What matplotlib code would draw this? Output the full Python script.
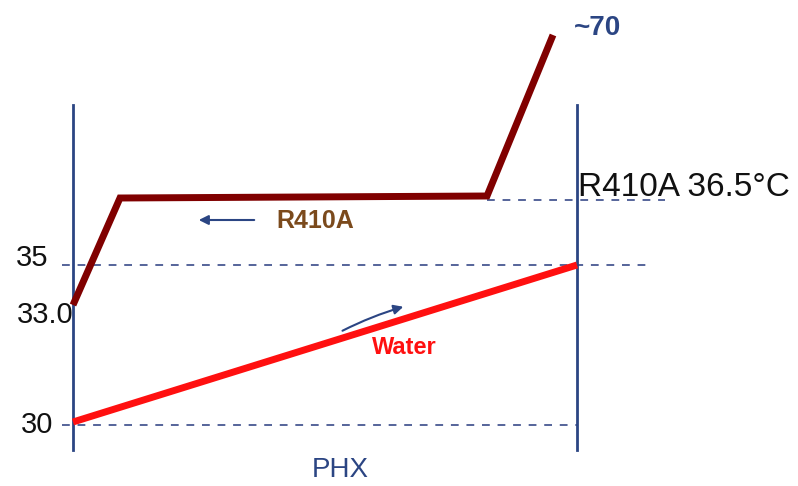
import matplotlib
matplotlib.use("Agg")
import matplotlib.pyplot as plt

plt.rcParams['font.family'] = ['Liberation Sans', 'DejaVu Sans']

# diagram coordinates (canvas units, y measured upward)
wall_x = [73, 577]
wall_y = [36, 381]

# R410A condensing profile: enters hot (~70), condenses at 36.5, leaves at 33.0
r410a_x = [73, 120, 487, 553]
r410a_y = [181, 288, 290, 451]

# water heats from 30 to 35
water_x = [73, 577]
water_y = [64, 221]

# dashed reference levels: (y, x start, x end)
ref_levels = [(61, 62, 577), (221, 62, 648), (286, 487, 665)]

navy = '#2b4583'
dash_col = '#55649a'
txt = '#111111'

fig = plt.figure(figsize=(7.98, 4.86), dpi=100)
ax = fig.add_axes([0, 0, 1, 1])
ax.set_xlim(0, 798)
ax.set_ylim(0, 486)
ax.axis('off')

for y, x0, x1 in ref_levels:
    ax.plot([x0, x1], [y, y], ls=(0, (4, 4)), color=dash_col, lw=1.4)

for x in wall_x:
    ax.plot([x, x], wall_y, color=navy, lw=2)

ax.plot(water_x, water_y, color='#ff1010', lw=5, solid_capstyle='butt')
ax.plot(r410a_x, r410a_y, color='#800000', lw=5, solid_joinstyle='miter',
        solid_capstyle='butt')

# labels
ax.text(48, 228, '35', fontsize=21, ha='right', va='center', color=txt)
ax.text(73, 171, '33.0', fontsize=21, ha='right', va='center', color=txt)
ax.text(53, 61, '30', fontsize=21, ha='right', va='center', color=txt)
ax.text(578, 299, 'R410A 36.5°C', fontsize=24, ha='left', va='center', color=txt)
ax.text(574, 458, '~70', fontsize=20, fontweight='bold', ha='left', va='center', color=navy)
ax.text(276, 265, 'R410A', fontsize=18, fontweight='bold', ha='left', va='center', color='#7b4a1c')
ax.text(372, 139, 'Water', fontsize=17, fontweight='bold', ha='left', va='center', color='#ff1010')
ax.text(312, 16, 'PHX', fontsize=20, ha='left', va='center', color=navy)

# flow direction arrows
ax.annotate('', xy=(196, 266), xytext=(257, 266),
            arrowprops=dict(arrowstyle='-|>', color=navy, lw=1.5, mutation_scale=14))
ax.annotate('', xy=(406, 180), xytext=(340, 154),
            arrowprops=dict(arrowstyle='-|>', color=navy, lw=1.5, mutation_scale=14,
                            connectionstyle='arc3,rad=-0.05'))

fig.savefig('out.png', dpi=100)
